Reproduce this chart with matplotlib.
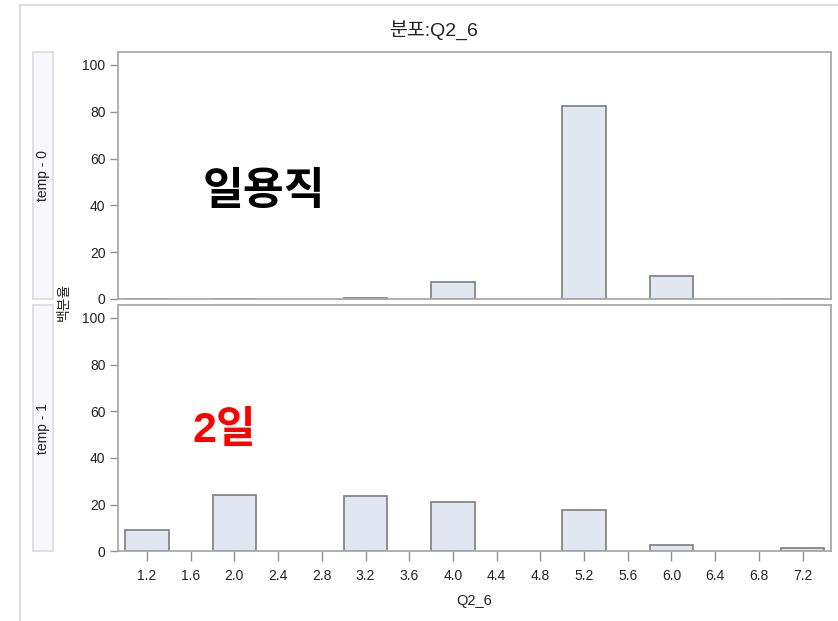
import matplotlib
matplotlib.use("Agg")
import matplotlib.pyplot as plt
from matplotlib.lines import Line2D
import numpy as np

plt.rcParams['font.family'] = ['Liberation Sans', 'Noto Sans CJK KR', 'DejaVu Sans']

# Histogram bins (midpoints) of Q2_6 and percent per bin for each temp group
bin_mids = [1.2, 2.0, 3.2, 4.0, 5.2, 6.0, 7.2]
pct_temp0 = [0.0, 0.0, 0.6, 7.1, 82.3, 10.0, 0.0]
pct_temp1 = [9.0, 24.3, 23.7, 21.0, 17.6, 2.7, 1.5]
bin_width = 0.4

x_ticks = [1.2, 1.6, 2.0, 2.4, 2.8, 3.2, 3.6, 4.0, 4.4, 4.8, 5.2, 5.6, 6.0, 6.4, 6.8, 7.2]
y_ticks = [0, 20, 40, 60, 80, 100]
panel_labels = ["temp - 0", "temp - 1"]
notes = ["일용직", "2일"]
note_colors = ["black", "#ff0000"]

W, H = 838, 621
fig = plt.figure(figsize=(W / 100, H / 100), dpi=100)

def fx(px):
    return px / W

def fy(py):
    return 1 - py / H

spine_c = "#a9a9a9"
bar_face = "#e2e6f0"
bar_edge = "#7d7d7d"
txt_c = "#222222"

# outer frame lines
fig.add_artist(Line2D([fx(20), fx(20)], [0, fy(5)], color="#d6d6d6", lw=1.2))
fig.add_artist(Line2D([fx(20), 1], [fy(5), fy(5)], color="#d6d6d6", lw=1.2))

fig.text(fx(433), fy(30), "분포:Q2_6", ha="center", va="center", fontsize=14, color=txt_c)

panels = [(52, 299), (305, 551.3)]
series = [pct_temp0, pct_temp1]
note_pos = [(2.27, 45.7), (1.905, 51.7)]
note_sizes = [32, 31]

for i, ((top, bot), vals) in enumerate(zip(panels, series)):
    ax = fig.add_axes([fx(118), fy(bot), fx(831) - fx(118), fy(top) - fy(bot)])
    ax.bar(bin_mids, vals, width=bin_width, color=bar_face, edgecolor=bar_edge,
           linewidth=1.2, align="center")
    ax.set_xlim(0.935, 7.46)
    ax.set_ylim(0, 105.5)
    ax.set_yticks(y_ticks)
    ax.set_yticklabels([str(v) for v in y_ticks], fontsize=10, color=txt_c)
    ax.tick_params(axis="y", length=6, width=1, color="#909090", pad=3)
    for s in ax.spines.values():
        s.set_color(spine_c)
        s.set_linewidth(1.3)
    if i == 0:
        ax.set_xticks([])
    else:
        ax.set_xticks(x_ticks)
        ax.set_xticklabels([f"{v:.1f}" for v in x_ticks], fontsize=10, color=txt_c)
        ax.tick_params(axis="x", length=7, width=1, color="#909090", pad=6)
        ax.set_xlabel("Q2_6", fontsize=10.5, color=txt_c, labelpad=8)
    nx, ny = note_pos[i]
    ax.text(nx, ny, notes[i], ha="center", va="center", fontsize=note_sizes[i],
            fontweight="bold", color=note_colors[i],
            family=["Liberation Sans", "Noto Sans CJK KR"])

    # side strip with the group label
    sax = fig.add_axes([fx(33), fy(bot), fx(53) - fx(33), fy(top) - fy(bot)])
    sax.set_xticks([])
    sax.set_yticks([])
    sax.set_facecolor("#f8f8fc")
    for s in sax.spines.values():
        s.set_color("#dcdcdc")
        s.set_linewidth(1.2)
    sax.text(0.5, 0.5, panel_labels[i], rotation=90, ha="center", va="center",
             fontsize=10, color=txt_c, transform=sax.transAxes)

fig.text(fx(64), fy(302), "백분율", rotation=90, ha="center", va="center",
         fontsize=10, color=txt_c)

fig.savefig("out.png", dpi=100)
